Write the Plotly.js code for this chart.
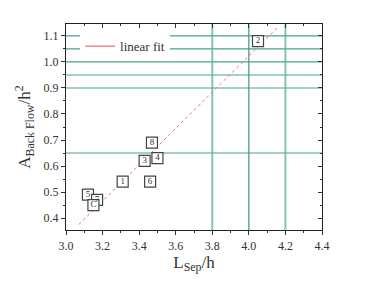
<!DOCTYPE html>
<html><head><meta charset="utf-8">
<script src="https://cdn.plot.ly/plotly-3.0.1.min.js"></script>
<style>html,body{margin:0;padding:0;background:#fff}#c{width:374px;height:288px}</style>
</head><body><div id="c"></div>
<script>
const labels = ['1','2','3','4','5','6','7','8','C'];
const lsep = [3.31, 4.05, 3.43, 3.50, 3.12, 3.46, 3.17, 3.47, 3.15];
const aback = [0.54, 1.08, 0.62, 0.63, 0.49, 0.54, 0.47, 0.69, 0.45];
const fitX = [3.07, 4.16];
const fitY = [0.375, 1.135];
const hLines = [1.1, 1.05, 1.0, 0.95, 0.9, 0.65];
const vLines = [3.8, 4.0, 4.2];
const vLineStyle = ['light', 'dark', 'light'];

const serif = '"Liberation Serif", serif';
const green = 'rgb(70,165,130)';

const shapes = [];
hLines.forEach(v => shapes.push({type:'line', xref:'paper', yref:'y', x0:0, x1:1, y0:v, y1:v, layer:'below', line:{color:green, width:1.2}}));
vLines.forEach((v,i) => shapes.push({type:'line', xref:'x', yref:'paper', x0:v, x1:v, y0:0, y1:1, layer:'below',
  line: vLineStyle[i]==='light' ? {color:'rgba(90,180,150,0.75)', width:2} : {color:'rgb(60,150,115)', width:1.2}}));

const traces = [
  {x: fitX, y: fitY, mode:'lines', line:{color:'rgb(240,110,130)', width:1, dash:'dot'}, showlegend:false, hoverinfo:'skip'},
  {x: [null], y: [null], mode:'lines', name:'linear fit', line:{color:'rgb(235,80,90)', width:1}},
  {x: lsep, y: aback, mode:'markers+text', text: labels, textposition:'middle center',
   textfont:{family:serif, size:9, color:'#333'},
   marker:{symbol:'square', size:11, color:'#fff', line:{color:'#444', width:1.2}}, showlegend:false},
  {x:[3.0], y:[0.4], xaxis:'x2', yaxis:'y2', mode:'markers', marker:{opacity:0}, showlegend:false, hoverinfo:'skip'}
];

const tickFont = {family:serif, size:12, color:'#333'};
const layout = {
  width:374, height:288,
  margin:{l:66, r:52, t:24, b:58},
  paper_bgcolor:'#fff', plot_bgcolor:'#fff',
  showlegend:true,
  legend:{x:0.055, y:0.965, xanchor:'left', yanchor:'top', bgcolor:'#fff', borderwidth:0,
    font:{family:serif, size:13, color:'#333'}, itemwidth:30, tracegroupgap:0},
  xaxis:{range:[3.0,4.4], dtick:0.2, tick0:3.0, tickformat:'.1f', ticks:'outside', ticklen:4, tickcolor:'#333',
    showgrid:false, zeroline:false, showline:true, linecolor:'#222', linewidth:1.2,
    minor:{dtick:0.1, ticks:'outside', ticklen:2, tickcolor:'#333'},
    tickfont:tickFont,
    title:{text:'L<sub>Sep</sub>/h', font:{family:serif, size:17, color:'#333'}, standoff:3}},
  yaxis:{range:[0.354,1.146], dtick:0.1, tick0:0.4, tickformat:'.1f', ticks:'outside', ticklen:4, tickcolor:'#333',
    showgrid:false, zeroline:false, showline:true, linecolor:'#222', linewidth:1.2,
    minor:{dtick:0.05, ticks:'outside', ticklen:2, tickcolor:'#333'},
    tickfont:tickFont,
    title:{text:'A<sub>Back Flow</sub>/h<sup>2</sup>', font:{family:serif, size:17, color:'#333'}, standoff:8}},
  xaxis2:{overlaying:'x', side:'top', matches:'x', range:[3.0,4.4], dtick:0.2, tick0:3.0, ticks:'inside', ticklen:4, tickcolor:'#333',
    showticklabels:false, showgrid:false, zeroline:false, showline:true, linecolor:'#222', linewidth:1.2,
    minor:{dtick:0.1, ticks:'inside', ticklen:2, tickcolor:'#333'}, anchor:'y2'},
  yaxis2:{overlaying:'y', side:'right', matches:'y', range:[0.354,1.146], dtick:0.1, tick0:0.4, ticks:'inside', ticklen:4, tickcolor:'#333',
    showticklabels:false, showgrid:false, zeroline:false, showline:true, linecolor:'#222', linewidth:1.2,
    minor:{dtick:0.05, ticks:'inside', ticklen:2, tickcolor:'#333'}, anchor:'x2'},
  shapes: shapes
};
Plotly.newPlot('c', traces, layout, {displayModeBar:false, staticPlot:true});
</script></body></html>
